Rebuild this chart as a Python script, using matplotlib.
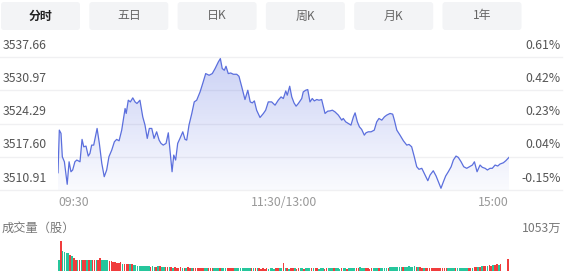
import numpy as np
import matplotlib
matplotlib.use("Agg")
import matplotlib.pyplot as plt
from matplotlib.patches import FancyBboxPatch, Polygon

plt.rcParams['font.family'] = ['Noto Sans CJK SC', 'DejaVu Sans']

# ---------------- data ----------------
tabs = ["分时", "五日", "日K", "周K", "月K", "1年"]
price_ticks = [3537.66, 3530.97, 3524.29, 3517.60, 3510.91]
pct_ticks = ["0.61%", "0.42%", "0.23%", "0.04%", "-0.15%"]
time_labels = ["09:30", "11:30/13:00", "15:00"]
vol_title = "成交量（股）"
vol_max_label = "1053万"

minute = [0, 0.7, 1.6, 2.3, 3.4, 4.9, 5.9, 6.9, 7.8, 9.0, 10.0, 11.7, 12.8, 13.7, 14.9, 16.1, 17.0, 17.9, 19.0, 20.8,
          22.0, 23.3, 24.6, 25.9, 27.1, 28.6, 30.0, 31.2, 32.5, 33.9, 35.7, 36.3, 37.4, 38.5, 39.8, 41.0, 42.0, 43.6,
          45.1, 46.3, 47.5, 48.6, 49.9, 51.1, 52.5, 53.8, 54.8, 56.0, 57.5, 58.7, 59.4, 60.7, 61.6, 62.6, 63.7, 64.9,
          66.4, 67.6, 68.5, 69.7, 71.2, 72.5, 73.8, 75.6, 77.0, 78.6, 80.4, 82.1, 83.6, 85.3, 86.4, 87.4, 88.5, 89.4,
          90.6, 91.9, 93.3, 95.1, 96.3, 97.8, 99.5, 101.0, 102.3, 103.4, 104.5, 105.7, 107.5, 109.3, 110.5, 111.9,
          113.7, 115.5, 117.2, 118.7, 119.9, 121.2, 122.0, 123.3, 124.4, 125.6, 126.7, 127.9, 129.7, 130.5, 131.8,
          132.9, 134.1, 135.3, 136.4, 137.7, 138.9, 140.3, 142.1, 143.5, 144.8, 146.0, 147.4, 149.2, 151.0, 151.8,
          153.1, 154.5, 155.9, 157.2, 158.1, 159.3, 160.4, 161.6, 163.0, 163.9, 165.1, 166.6, 168.3, 169.6, 170.8,
          172.3, 173.7, 174.9, 176.7, 178.1, 179.0, 180.3, 182.0, 183.8, 185.6, 186.8, 188.2, 189.6, 190.9, 192.1,
          193.6, 194.9, 196.8, 198.0, 199.7, 201.2, 202.4, 203.8, 205.1, 206.3, 207.7, 209.2, 210.4, 211.8, 213.0,
          214.5, 215.9, 217.5, 218.9, 220.5, 221.6, 223.0, 224.6, 225.8, 227.3, 228.5, 229.9, 231.1, 232.6, 234.0,
          235.2, 237.0, 238.3, 240.0]

price = [3514.39, 3522.98, 3522.32, 3517.61, 3516.60, 3512.06, 3516.60, 3514.59, 3514.94, 3516.60, 3516.95, 3516.60,
         3521.11, 3519.62, 3519.76, 3517.75, 3518.29, 3519.96, 3519.96, 3523.32, 3520.31, 3516.28, 3513.59, 3514.94,
         3517.61, 3518.96, 3520.63, 3521.11, 3520.83, 3522.98, 3527.34, 3526.34, 3529.01, 3528.67, 3529.48, 3528.67,
         3528.35, 3529.01, 3525.65, 3523.99, 3521.31, 3523.32, 3523.32, 3521.31, 3522.64, 3520.97, 3520.31, 3519.96,
         3520.31, 3522.44,
         3519.62, 3514.59, 3517.95, 3516.95, 3520.31, 3521.31, 3522.64, 3521.11, 3520.97, 3523.99, 3526.34, 3528.67,
         3529.01, 3530.68, 3532.37, 3534.38, 3534.04, 3534.38, 3535.39, 3536.71, 3537.40, 3535.39, 3535.05, 3535.85,
         3534.38, 3534.50, 3534.24, 3534.24, 3533.84, 3531.69, 3529.15, 3531.02, 3528.67, 3528.47, 3528.87, 3527.00,
         3525.53, 3526.34, 3527.00, 3528.67, 3528.67, 3528.01, 3529.01, 3529.68, 3529.35,
         3530.88, 3530.02, 3531.83, 3529.68, 3528.47, 3527.81, 3528.35, 3529.35, 3530.68, 3531.02, 3531.16, 3528.67,
         3529.35, 3528.87, 3529.15, 3529.01, 3529.15, 3526.34, 3526.80, 3526.86, 3527.00, 3526.66, 3526.00, 3524.99,
         3525.33, 3524.65, 3524.33, 3523.99, 3525.65, 3526.46, 3524.65, 3523.64, 3523.12, 3521.97, 3522.44, 3522.64,
         3522.64, 3522.98, 3524.65, 3525.33, 3524.99, 3525.65, 3526.00, 3526.34,
         3526.20, 3524.99, 3522.98, 3521.97, 3520.83, 3519.96, 3520.10, 3519.62, 3517.61, 3515.60, 3515.08, 3515.28,
         3514.27, 3512.78, 3513.93, 3514.79, 3513.73, 3512.58, 3511.26, 3512.58, 3513.73, 3514.59, 3515.60, 3516.95,
         3517.75, 3517.49, 3516.60, 3515.60, 3515.28, 3515.60, 3515.94, 3516.60, 3514.59, 3515.94, 3515.48, 3515.28,
         3514.94, 3515.28, 3515.28, 3515.94, 3515.74, 3516.14, 3516.40, 3516.81, 3517.49]

# volume per minute (万股)
volume = [380, 1053, 700, 660, 640, 620, 560, 520, 440, 380, 390, 380, 390, 380, 380, 390, 380, 385, 380, 390,
          380, 390, 450, 400, 390, 380, 370, 360, 340, 320, 300, 290, 280, 300, 260, 250, 240, 240, 230, 230,
          210, 200, 190, 180, 190, 170, 160, 170, 160, 150, 170, 150, 140, 160, 180, 150, 140, 150, 130, 140,
          130, 120, 130, 110, 120, 140, 110, 120, 110, 130, 120, 110, 100, 110, 120, 100, 110, 100, 120, 110,
          100, 110, 120, 100, 110, 100, 90, 100, 110, 100, 100, 110, 90, 100, 110, 100, 90, 100, 110, 100,
          100, 90, 100, 110, 100, 90, 100, 90, 80, 90, 80, 90, 80, 100, 90, 80, 90, 110, 100, 90,
          295, 90, 100, 80, 90, 100, 90, 80, 90, 100, 90, 80, 90, 100, 110, 100, 90, 100, 90, 80,
          90, 100, 80, 90, 100, 90, 100, 110, 100, 90, 80, 90, 100, 90, 80, 90, 100, 110, 100, 90,
          110, 140, 100, 90, 100, 90, 80, 90, 100, 110, 100, 90, 100, 110, 120, 100, 110, 130, 140, 130,
          140, 130, 150, 140, 130, 140, 150, 160, 140, 150, 180, 140, 130, 140, 120, 110, 110, 120, 110, 100,
          110, 120, 110, 100, 110, 100, 100, 110, 100, 90, 100, 110, 100, 90, 100, 110, 100, 100, 90, 100,
          110, 120, 130, 140, 150, 140, 160, 170, 180, 190, 200, 190, 210, 220, 230, 225, 235, 0, 0, 0,
          415]
# r = up minute, g = down minute
vol_dir = ("grggggrgrrgrgrrgrgrr"
           "grrggggrrrrrrrgrrrgr"
           "gggggggggrggrgrggrrg"
           "rgrrrrgrgrrgrrrrrrgg"
           "rrrgggrggg" "rrrrgggggg"
           "gggrgrgrrr" "rrggggrrgg"
           "rgrgrrgrrg" "grgggrgrrg"
           "ggrrgggrgg" "grggrggggr"
           "rgggrrrrgg" "grggggrggg"
           "ggggrggggg" "grgrrgrrrr"
           "rrrrrrrrgg" "ggrggggggr"
           "rgrrgrgrrg" "rrgrrgrrrr"
           "r")

# ---------------- figure ----------------
W, H = 571, 273
fig = plt.figure(figsize=(W / 100, H / 100), dpi=100)
fig.patch.set_facecolor("white")

bg = fig.add_axes([0, 0, 1, 1])
bg.set_xlim(0, W)
bg.set_ylim(H, 0)
bg.axis("off")

# tabs
for i, t in enumerate(tabs):
    x0 = 1 + i * 88.3
    bg.add_patch(FancyBboxPatch((x0, 2), 79, 28, boxstyle="round,pad=0,rounding_size=3",
                                facecolor="#f3f4f6", edgecolor="none"))
    bg.text(x0 + 39.5, 16, t, ha="center", va="center", fontsize=8.6,
            color="#222222" if i == 0 else "#666666",
            fontweight="bold" if i == 0 else "normal")

# price area geometry (pixels)
top_px, bot_px = 57.3, 190.0
left_px, right_px = 58, 509
grid_y = np.linspace(top_px, bot_px, len(price_ticks))
for gy, pl, pc in zip(grid_y, price_ticks, pct_ticks):
    bg.plot([0, 562], [gy, gy], color="#f0f0f2", lw=1.0)
    bg.text(3, gy - 12, f"{pl:.2f}", ha="left", va="center", fontsize=8.8, color="#555555")
    bg.text(561, gy - 12, pc, ha="right", va="center", fontsize=8.8, color="#555555")

# time labels
bg.text(left_px, 203, time_labels[0], ha="left", va="center", fontsize=8.8, color="#999999")
bg.text((left_px + right_px) / 2, 203, time_labels[1], ha="center", va="center", fontsize=8.8, color="#999999")
bg.text(right_px, 203, time_labels[2], ha="right", va="center", fontsize=8.8, color="#999999")

bg.text(2, 228, vol_title, ha="left", va="center", fontsize=8.8, color="#777777")
bg.text(561, 228, vol_max_label, ha="right", va="center", fontsize=8.8, color="#777777")

# price axes
ax = fig.add_axes([left_px / W, (H - bot_px) / H, (right_px - left_px) / W, (bot_px - top_px) / H])
ax.set_xlim(0, 240)
ylo, yhi = min(price_ticks), max(price_ticks)
ax.set_ylim(ylo, yhi)
ax.axis("off")
ax.patch.set_alpha(0)

line_c = "#5b6fdd"
verts = [(minute[0], ylo)] + list(zip(minute, price)) + [(minute[-1], ylo)]
poly = Polygon(verts, closed=True, facecolor="none", edgecolor="none")
ax.add_patch(poly)
g = np.linspace(1, 0, 256)
rgba = np.zeros((256, 1, 4))
rgba[:, 0, 0] = 0.36
rgba[:, 0, 1] = 0.44
rgba[:, 0, 2] = 0.88
rgba[:, 0, 3] = 0.03 + 0.29 * g
im = ax.imshow(rgba, extent=[0, 240, ylo, yhi], aspect="auto", origin="upper", zorder=1, interpolation="bilinear")
im.set_clip_path(poly)
ax.plot(minute, price, color=line_c, lw=0.9, zorder=2)

# volume axes
vax = fig.add_axes([left_px / W, 2 / H, (right_px - left_px) / W, 30 / H])
n = len(volume)
vax.set_xlim(-0.5, n - 0.5)
vax.set_ylim(0, max(volume))
vax.axis("off")
vax.patch.set_alpha(0)
cols = ["#f03c3c" if d == "r" else "#26c69c" for d in vol_dir]
vax.bar(range(n), volume, width=0.85, color=cols, linewidth=0)

fig.savefig("out.png", dpi=100, facecolor="white")
